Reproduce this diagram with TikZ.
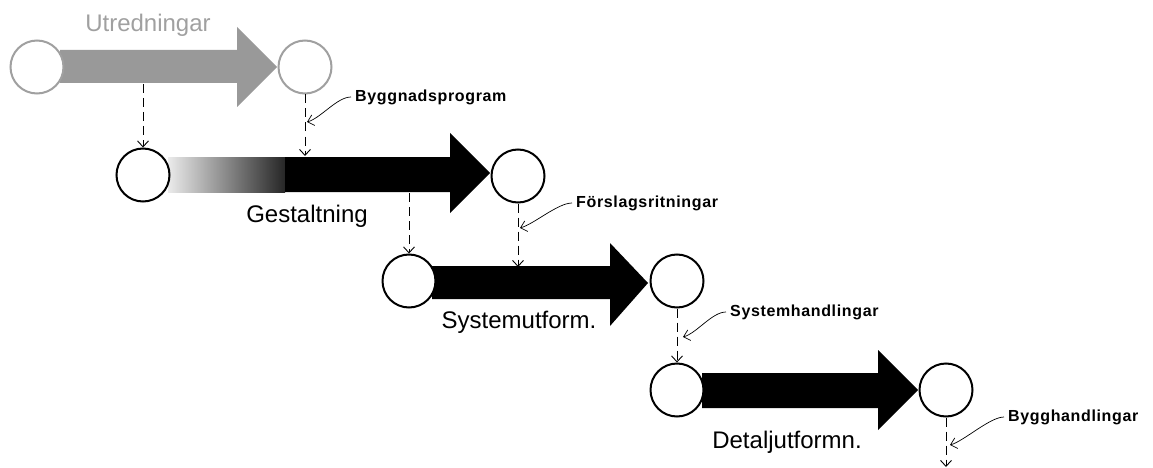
\documentclass[tikz,border=0pt]{standalone}
\usepackage{fontspec}
\setmainfont{Liberation Sans}
\usetikzlibrary{arrows.meta}
\definecolor{lightgr}{HTML}{A0A0A0}
\definecolor{fillgr}{HTML}{999999}
\begin{document}
\begin{tikzpicture}[x=1pt,y=-1pt,
  stage/.style={circle,draw=black,fill=white,line width=2pt,minimum size=53pt,inner sep=0pt},
  gstage/.style={stage,draw=lightgr},
  dasharrow/.style={draw=black,line width=0.9pt,dash pattern=on 9pt off 5pt,-{Straight Barb[length=6pt,width=11pt]}},
  leader/.style={draw=black,line width=0.7pt,-{Straight Barb[length=6pt,width=11pt]}},
  biglabel/.style={font=\fontsize{24}{26}\selectfont,inner sep=0pt},
  smalllabel/.style={font=\fontsize{16}{18}\selectfont\bfseries\addfontfeature{LetterSpace=4},inner sep=0pt,anchor=west}]
\useasboundingbox (0,0) rectangle (1153,468);
% row 1 (grey)
\fill[fillgr] (60,50) -- (237,50) -- (237,27) -- (277,67) -- (237,107) -- (237,83) -- (60,83) -- cycle;
\node[gstage] (c1a) at (37,67) {};
\node[gstage] (c1b) at (305,67) {};
\node[biglabel,text=lightgr] (t1) at (148,25) {Utredningar};
% row 2
\shade[left color=black!8,right color=black!85] (168,157) rectangle (285,192);
\fill[black] (285,157) -- (450,157) -- (450,133) -- (490,173) -- (450,213) -- (450,192) -- (285,192) -- cycle;
\node[stage] (c2a) at (143,175) {};
\node[stage] (c2b) at (518,176) {};
\node[biglabel] (t2) at (307,216) {Gestaltning};
% row 3
\fill[black] (432,266) -- (610,266) -- (610,243) -- (648,283) -- (610,326) -- (610,299) -- (432,299) -- cycle;
\node[stage] (c3a) at (409,281) {};
\node[stage] (c3b) at (677,281) {};
\node[biglabel] (t3) at (519,322) {Systemutform.};
% row 4
\fill[black] (702,373) -- (878,373) -- (878,350) -- (918,390) -- (878,430) -- (878,408) -- (702,408) -- cycle;
\node[stage] (c4a) at (677,390) {};
\node[stage] (c4b) at (946,390) {};
\node[biglabel] (t4) at (787,442) {Detaljutformn.};
% dashed connectors
\coordinate (b1) at (143,84);
\coordinate (b2top) at (305,156);
\coordinate (b2) at (409,193);
\coordinate (b3top) at (518,267);
\coordinate (end) at (946,467);
\draw[dasharrow] (b1) -- (c2a.north);
\draw[dasharrow] (c1b.south) -- (b2top);
\draw[dasharrow] (b2) -- (c3a.north);
\draw[dasharrow] (c2b.south) -- (b3top);
\draw[dasharrow] (c3b.south) -- (c4a.north);
\draw[dasharrow] (c4b.south) -- (end);
% document labels with leaders
\node[smalllabel] (l1) at (355,97) {Byggnadsprogram};
\node[smalllabel] (l2) at (576,203) {Förslagsritningar};
\node[smalllabel] (l3) at (730,312) {Systemhandlingar};
\node[smalllabel] (l4) at (1008,417) {Bygghandlingar};
\coordinate (p1) at (307,122);
\coordinate (p2) at (520,228);
\coordinate (p3) at (683,337);
\coordinate (p4) at (950,445);
\draw[leader] ([xshift=-4pt]l1.west) .. controls +(-14,0) and +(14,-4) .. (p1);
\draw[leader] ([xshift=-4pt]l2.west) .. controls +(-14,0) and +(14,-4) .. (p2);
\draw[leader] ([xshift=-4pt]l3.west) .. controls +(-14,0) and +(14,-4) .. (p3);
\draw[leader] ([xshift=-4pt]l4.west) .. controls +(-14,0) and +(14,-4) .. (p4);
\end{tikzpicture}
\end{document}
